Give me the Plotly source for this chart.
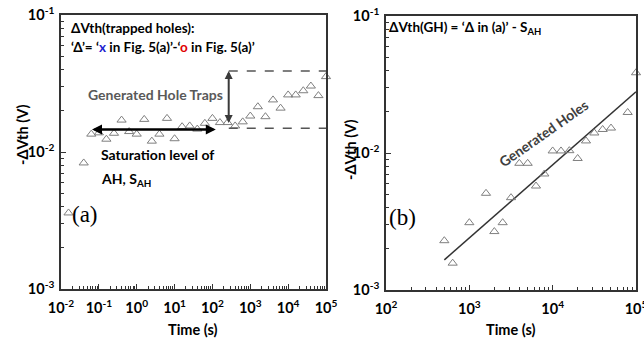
import plotly.graph_objects as go

W, H = 644, 341

# ---------------- data ----------------
# Panel (a): trapped holes
time_a = [0.0158, 0.0398, 0.0631, 0.1, 0.158, 0.251, 0.398, 0.631, 1, 1.58, 2.51, 3.98,
          6.31, 10, 15.8, 25.1, 39.8, 63.1, 100, 158, 251, 398, 631, 1000, 1585, 2512,
          3981, 6310, 10000, 15849, 25119, 39811, 63096, 100000]
dvth_a = [0.00359, 0.00832, 0.0135, 0.0138, 0.0124, 0.0137, 0.0171, 0.0141, 0.0135, 0.0173,
          0.0120, 0.0135, 0.0176, 0.0125, 0.0153, 0.0155, 0.0147, 0.0162, 0.0176, 0.0164,
          0.0164, 0.0155, 0.0166, 0.0183, 0.0214, 0.0181, 0.0240, 0.0209, 0.0261, 0.0261,
          0.0280, 0.0303, 0.0258, 0.0355]
# dashed guide levels (generated hole traps band)
band_time = [270, 100000]
band_top = [0.039, 0.039]
band_bottom = [0.0149, 0.0149]

# Panel (b): generated holes
time_b = [501, 631, 1000, 1585, 1995, 2512, 3162, 3981, 5012, 6310, 7943, 10000, 12589,
          15849, 19953, 25119, 31623, 39811, 50119, 79433, 100000]
dvth_b = [0.00229, 0.00157, 0.00310, 0.00508, 0.00267, 0.00310, 0.00472, 0.00841, 0.00841,
          0.00574, 0.00703, 0.01035, 0.01035, 0.01040, 0.00912, 0.01225, 0.01400, 0.01485,
          0.01521, 0.01976, 0.03853]
fit_time = [501, 100000]
fit_dvth = [0.00166, 0.0280]

# tick labels
xa_tickvals = [1e-2, 1e-1, 1e0, 1e1, 1e2, 1e3, 1e4, 1e5]
xa_ticktext = ["10<sup>-2</sup>", "10<sup>-1</sup>", "10<sup>0</sup>", "10<sup>1</sup>",
               "10<sup>2</sup>", "10<sup>3</sup>", "10<sup>4</sup>", "10<sup>5</sup>"]
xb_tickvals = [1e2, 1e3, 1e4, 1e5]
xb_ticktext = ["10<sup>2</sup>", "10<sup>3</sup>", "10<sup>4</sup>", "10<sup>5</sup>"]
y_tickvals = [1e-3, 1e-2, 1e-1]
y_ticktext = ["10<sup>-3</sup>", "10<sup>-2</sup>", "10<sup>-1</sup>"]

# ---------------- figure ----------------
FONT = "Lato, Carlito, 'Open Sans', sans-serif"
MARK = dict(symbol="triangle-up-open", size=8, color="#7f7f7f", line=dict(width=1, color="#7f7f7f"))

fig = go.Figure()
fig.add_trace(go.Scatter(x=time_a, y=dvth_a, mode="markers", marker=MARK, cliponaxis=False,
                         xaxis="x", yaxis="y", showlegend=False))
fig.add_trace(go.Scatter(x=band_time, y=band_top, mode="lines", cliponaxis=False,
                         line=dict(color="#555555", width=1.3, dash="dash"),
                         xaxis="x", yaxis="y", showlegend=False))
fig.add_trace(go.Scatter(x=band_time, y=band_bottom, mode="lines", cliponaxis=False,
                         line=dict(color="#555555", width=1.3, dash="dash"),
                         xaxis="x", yaxis="y", showlegend=False))
fig.add_trace(go.Scatter(x=fit_time, y=fit_dvth, mode="lines",
                         line=dict(color="#333333", width=1.5),
                         xaxis="x2", yaxis="y2", showlegend=False))
fig.add_trace(go.Scatter(x=time_b, y=dvth_b, mode="markers", marker=MARK, cliponaxis=False,
                         xaxis="x2", yaxis="y2", showlegend=False))


def minor_vals(lo, hi):
    vals = []
    for k in range(lo, hi):
        for m in range(2, 10):
            vals.append(m * 10.0 ** k)
    return vals


def axis(domain, rng, tickvals, ticktext, anchor, minor, standoff):
    return dict(
        type="log", domain=domain, range=rng, anchor=anchor, automargin=False,
        tickmode="array", tickvals=tickvals, ticktext=ticktext,
        ticks="inside", ticklen=5, tickwidth=1, tickcolor="#333333",
        showline=True, mirror=True, linecolor="#333333", linewidth=1.5,
        showgrid=False, zeroline=False, ticklabeloverflow="allow",
        tickfont=dict(family=FONT, size=14.5, color="black", weight="bold"),
        ticklabelstandoff=standoff,
        minor=dict(tickmode="array", tickvals=minor, ticks="inside", ticklen=3,
                   tickcolor="#333333", showgrid=False),
    )


ax_dom = [61 / W, 326 / W]
bx_dom = [386 / W, 636 / W]
ay_dom = [1 - 289 / H, 1 - 15 / H]
by_dom = [1 - 290 / H, 1 - 16 / H]

fig.update_layout(
    width=W, height=H,
    margin=dict(l=0, r=0, t=0, b=0, pad=0, autoexpand=False),
    paper_bgcolor="white", plot_bgcolor="white", showlegend=False,
    xaxis=axis(ax_dom, [-2, 5], xa_tickvals, xa_ticktext, "y", minor_vals(-2, 5), 5),
    yaxis=axis(ay_dom, [-3, -1], y_tickvals, y_ticktext, "x", minor_vals(-3, -1), 2),
    xaxis2=axis(bx_dom, [2, 5], xb_tickvals, xb_ticktext, "y2", minor_vals(2, 5), 5),
    yaxis2=axis(by_dom, [-3, -1], y_tickvals, y_ticktext, "x2", minor_vals(-3, -1), 2),
)


def px(xp, yp):
    return xp / W, 1 - yp / H


anns = []


def text(xp, yp, s, size=13.5, color="black", xanchor="left", family=FONT, angle=0, bold=True):
    x, y = px(xp, yp)
    anns.append(dict(xref="paper", yref="paper", x=x, y=y, text=(f"<b>{s}</b>" if bold else s),
                     showarrow=False, xanchor=xanchor, yanchor="middle", textangle=angle,
                     font=dict(family=family, size=size, color=color)))


SERIF = "'Liberation Serif', 'Times New Roman', serif"
# panel (a) texts
text(69, 27.5, "ΔVth(trapped holes):")
text(69, 47, "‘Δ’= ‘<span style='color:#1f1fd0'>x</span> in Fig. 5(a)’-‘<span style='color:#e00000'>o</span> in Fig. 5(a)’")
text(86, 95, "Generated Hole Traps", color="#595959", size=14)
text(99, 154, "Saturation level of", size=14)
text(99, 179, "AH, S<sub>AH</sub>", size=14)
text(70, 214, "(a)", size=23, family=SERIF, bold=False)
# panel (b) texts
text(387, 28, "ΔVth(GH) = ‘Δ in (a)’ - S<sub>AH</sub>")
text(543, 133, "Generated Holes", color="#404040", xanchor="center", angle=-35, size=14)
text(387, 217, "(b)", size=23, family=SERIF, bold=False)
# axis titles
text(22, 135, "-ΔVth (V)", xanchor="center", angle=-90, size=14.5)
text(350, 150, "-ΔVth (V)", xanchor="center", angle=-90, size=14.5)
text(193, 329, "Time (s)", xanchor="center", size=14.5)
text(511, 329, "Time (s)", xanchor="center", size=14.5)

# arrows (log10 coordinates for annotation positions on log axes)
anns.append(dict(xref="x", yref="y", axref="x", ayref="y", x=2.09, y=-1.836, ax=-1.22, ay=-1.836,
                 showarrow=True, arrowhead=2, arrowside="end+start", arrowwidth=2.5,
                 arrowsize=0.8, arrowcolor="black", text=""))
anns.append(dict(xref="x", yref="y", axref="x", ayref="y", x=2.43, y=-1.409, ax=2.43, ay=-1.80,
                 showarrow=True, arrowhead=2, arrowside="end+start", arrowwidth=2,
                 arrowsize=0.8, arrowcolor="#3a3a3a", text=""))

fig.update_layout(annotations=anns)
fig.write_html(
    "out.html",
    config={"displayModeBar": False},
    post_script="document.body.style.margin='0px';document.body.style.padding='0px';"
                "document.body.style.overflow='hidden';",
)
